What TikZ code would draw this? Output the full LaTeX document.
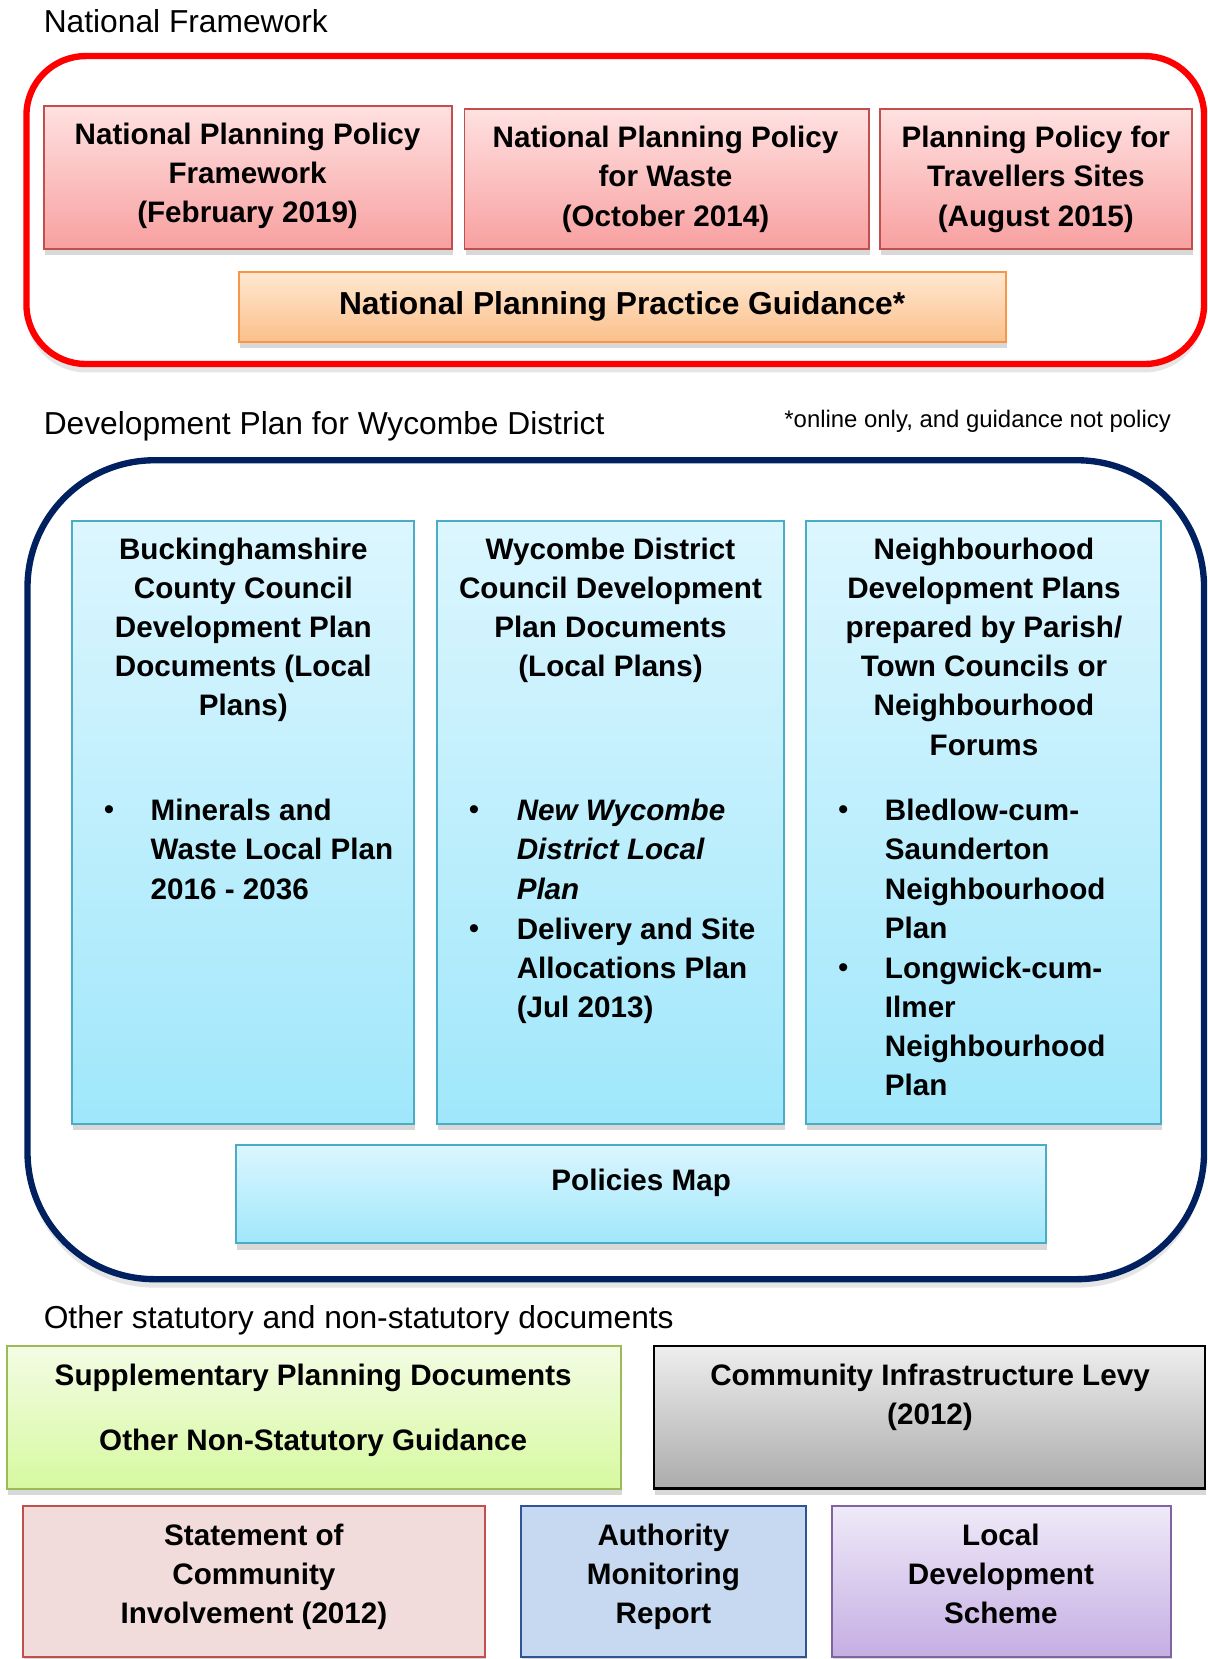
\documentclass[tikz,border=0pt]{standalone}
\usepackage{fontspec}
\setmainfont{Liberation Sans}
\usetikzlibrary{fit,shadows}
\definecolor{redline}{HTML}{C0504D}
\definecolor{redtop}{HTML}{FFE1E1}
\definecolor{redbot}{HTML}{F8A0A0}
\definecolor{orangeline}{HTML}{F79646}
\definecolor{orangetop}{HTML}{FFE8D1}
\definecolor{orangebot}{HTML}{FBC08B}
\definecolor{blueline}{HTML}{4BACC6}
\definecolor{bluetop}{HTML}{DCF6FE}
\definecolor{bluebot}{HTML}{A0E7FB}
\definecolor{greenline}{HTML}{9BBB59}
\definecolor{greentop}{HTML}{F3FCE4}
\definecolor{greenbot}{HTML}{D7F9A0}
\definecolor{greytop}{HTML}{EEEEEE}
\definecolor{greybot}{HTML}{ABABAB}
\definecolor{scifill}{HTML}{F2DCDB}
\definecolor{amrline}{HTML}{2F5597}
\definecolor{amrfill}{HTML}{C6D9F1}
\definecolor{ldsline}{HTML}{8064A2}
\definecolor{ldstop}{HTML}{EFEAF8}
\definecolor{ldsbot}{HTML}{C5AEE3}
\definecolor{navy}{HTML}{002060}

\begin{document}
\begin{tikzpicture}[x=0.5pt, y=-0.5pt,
  box/.style={draw, inner sep=0pt, line width=0.9pt, drop shadow={shadow xshift=0.5pt, shadow yshift=-3pt, opacity=0.3}},
  redbox/.style={box, draw=redline, top color=redtop, bottom color=redbot},
  orangebox/.style={box, draw=orangeline, top color=orangetop, bottom color=orangebot},
  bluebox/.style={box, draw=blueline, top color=bluetop, bottom color=bluebot},
  greenbox/.style={box, draw=greenline, top color=greentop, bottom color=greenbot},
  greybox/.style={box, draw=black, line width=1.2pt, top color=greytop, bottom color=greybot},
  scibox/.style={box, draw=redline, fill=scifill},
  amrbox/.style={box, draw=amrline, fill=amrfill},
  ldsbox/.style={box, draw=ldsline, top color=ldstop, bottom color=ldsbot},
  frame/.style={line width=3pt, drop shadow={shadow xshift=0pt, shadow yshift=-4pt, opacity=0.2}},
  head/.style={anchor=base west, inner sep=0pt, font=\fontsize{15}{18}\selectfont},
  txt/.style={anchor=north, align=center, inner sep=0pt, font=\fontsize{14}{18.5}\selectfont\bfseries},
  ltxt/.style={txt, anchor=north west, align=left},
  dot/.style={anchor=base, inner sep=0pt, font=\fontsize{14}{18.5}\selectfont}]
  \useasboundingbox[fill=white] (0,0) rectangle (1141,1568);

  % national framework
  \node[head] (hnat) at (41,31) {National Framework};
  \draw[frame, draw=red, fill=white, rounded corners=28pt] (25,53) rectangle (1138,344);
  \node[redbox, fit={(42,100) (427,235)}] (nppf) {};
  \node[redbox, fit={(439,103) (821,235)}] (nppw) {};
  \node[redbox, fit={(832,103) (1127,235)}] (ppts) {};
  \node[orangebox, fit={(226,257) (951,323)}] (nppg) {};
  \node[txt] (nppft) at (234,116) {National Planning Policy\\Framework\\(February 2019)};
  \node[txt] (nppwt) at (629,119) {National Planning Policy\\for Waste\\(October 2014)};
  \node[txt] (pptst) at (979,119) {Planning Policy for\\Travellers Sites\\(August 2015)};
  \node[txt, anchor=base, font=\fontsize{15}{18}\selectfont\bfseries] (nppgt) at (588,297) {National Planning Practice Guidance*};

  % development plan
  \node[head] (hdev) at (41,411) {Development Plan for Wycombe District};
  \node[head, anchor=base east, font=\fontsize{11.3}{14}\selectfont] (note) at (1107,404) {*online only, and guidance not policy};
  \draw[frame, draw=navy, fill=white, rounded corners=60pt] (26,435) rectangle (1138,1209);
  \node[bluebox, fit={(68,492) (391,1062)}] (bucks) {};
  \node[bluebox, fit={(413,492) (741,1062)}] (wdc) {};
  \node[bluebox, fit={(762,492) (1097,1062)}] (ndp) {};
  \node[bluebox, fit={(223,1082) (989,1175)}] (pmap) {};
  \node[txt] (buckst) at (230,508) {Buckinghamshire\\County Council\\Development Plan\\Documents (Local\\Plans)};
  \node[txt] (wdct) at (577,508) {Wycombe District\\Council Development\\Plan Documents\\(Local Plans)};
  \node[txt] (ndpt) at (930,508) {Neighbourhood\\Development Plans\\prepared by Parish/\\Town Councils or\\Neighbourhood\\Forums};
  \node[dot] (bd1) at (103,775) {\textbullet};
  \node[ltxt] (mwlp) at (142,755) {Minerals and\\Waste Local Plan\\2016 - 2036};
  \node[dot] (wd1) at (448,775) {\textbullet};
  \node[ltxt] (nwdlp) at (488,755) {\textit{New Wycombe}\\\textit{District Local}\\\textit{Plan}};
  \node[dot] (wd2) at (448,887) {\textbullet};
  \node[ltxt] (dsap) at (488,867) {Delivery and Site\\Allocations Plan\\(Jul 2013)};
  \node[dot] (nd1) at (797,775) {\textbullet};
  \node[ltxt] (bcs) at (836,755) {Bledlow-cum-\\Saunderton\\Neighbourhood\\Plan};
  \node[dot] (nd2) at (797,924) {\textbullet};
  \node[ltxt] (lci) at (836,904) {Longwick-cum-\\Ilmer\\Neighbourhood\\Plan};
  \node[txt, anchor=base] (pmapt) at (606,1125) {Policies Map};

  % other documents
  \node[head] (hoth) at (41,1256) {Other statutory and non-statutory documents};
  \node[greenbox, fit={(7,1272) (587,1407)}] (spd) {};
  \node[greybox, fit={(618,1272) (1139,1407)}] (cil) {};
  \node[scibox, fit={(22,1423) (458,1566)}] (sci) {};
  \node[amrbox, fit={(492,1423) (762,1566)}] (amr) {};
  \node[ldsbox, fit={(786,1423) (1107,1566)}] (lds) {};
  \node[txt] (spdt) at (296,1289) {Supplementary Planning Documents\\[12pt]Other Non-Statutory Guidance};
  \node[txt] (cilt) at (879,1289) {Community Infrastructure Levy\\(2012)};
  \node[txt] (scit) at (240,1440) {Statement of\\Community\\Involvement (2012)};
  \node[txt] (amrt) at (627,1440) {Authority\\Monitoring\\Report};
  \node[txt] (ldst) at (946,1440) {Local\\Development\\Scheme};
\end{tikzpicture}
\end{document}
